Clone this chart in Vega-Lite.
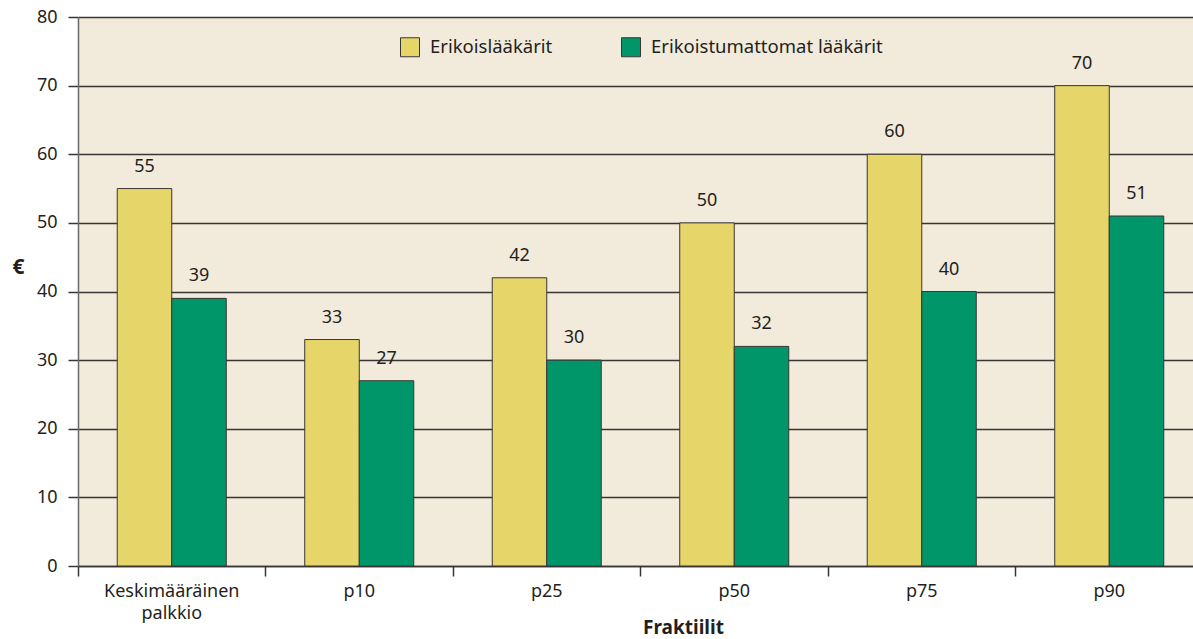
{
  "$schema": "https://vega.github.io/schema/vega-lite/v6.json",
  "width": 1115,
  "height": 549,
  "autosize": {"type": "none"},
  "padding": {"left": 78, "top": 17, "right": 0, "bottom": 73},
  "background": "#ffffff",
  "config": {
    "view": {"fill": "#F2EADB", "stroke": null},
    "font": "Noto Sans",
    "axis": {"labelFont": "Noto Sans", "titleFont": "Noto Sans", "labelColor": "#231F20", "titleColor": "#231F20"}
  },
  "data": {
    "values": [
      {"kategoria": "Keskimääräinen palkkio", "ryhma": "Erikoislääkärit", "arvo": 55},
      {"kategoria": "Keskimääräinen palkkio", "ryhma": "Erikoistumattomat lääkärit", "arvo": 39},
      {"kategoria": "p10", "ryhma": "Erikoislääkärit", "arvo": 33},
      {"kategoria": "p10", "ryhma": "Erikoistumattomat lääkärit", "arvo": 27},
      {"kategoria": "p25", "ryhma": "Erikoislääkärit", "arvo": 42},
      {"kategoria": "p25", "ryhma": "Erikoistumattomat lääkärit", "arvo": 30},
      {"kategoria": "p50", "ryhma": "Erikoislääkärit", "arvo": 50},
      {"kategoria": "p50", "ryhma": "Erikoistumattomat lääkärit", "arvo": 32},
      {"kategoria": "p75", "ryhma": "Erikoislääkärit", "arvo": 60},
      {"kategoria": "p75", "ryhma": "Erikoistumattomat lääkärit", "arvo": 40},
      {"kategoria": "p90", "ryhma": "Erikoislääkärit", "arvo": 70},
      {"kategoria": "p90", "ryhma": "Erikoistumattomat lääkärit", "arvo": 51}
    ]
  },
  "layer": [
    {
      "mark": {"type": "bar", "stroke": "#3a3535", "strokeWidth": 1},
      "encoding": {
        "x": {
          "field": "kategoria", "type": "nominal", "sort": null,
          "scale": {"range": [0, 1125], "paddingInner": 0, "paddingOuter": 0},
          "axis": {
            "labelAngle": 0, "ticks": false, "grid": false, "domain": true,
            "domainColor": "#3a3535", "domainWidth": 1.5,
            "labelFontSize": 18, "labelPadding": 16, "labelLineHeight": 22,
            "labelExpr": "datum.label == 'Keskimääräinen palkkio' ? ['Keskimääräinen', 'palkkio'] : datum.label",
            "title": "Fraktiilit", "titleFontSize": 19, "titleFontWeight": "bold",
            "titleX": 605, "titleY": 61, "titleAlign": "center", "titleBaseline": "middle"
          }
        },
        "xOffset": {
          "field": "ryhma", "type": "nominal",
          "scale": {"paddingInner": 0, "paddingOuter": 0.72}
        },
        "y": {
          "field": "arvo", "type": "quantitative",
          "scale": {"domain": [0, 80]},
          "axis": {
            "values": [0, 10, 20, 30, 40, 50, 60, 70, 80],
            "grid": true, "gridColor": "#3a3535", "gridWidth": 1.5,
            "domainColor": "#6e6a6a", "domainWidth": 1.5,
            "tickColor": "#3a3535", "tickSize": 10, "tickWidth": 1.5,
            "labelFontSize": 18, "labelPadding": 11,
            "title": "€", "titleFontSize": 21, "titleFontWeight": "bold",
            "titleAngle": 0, "titleX": -60, "titleY": 250, "titleAlign": "center", "titleBaseline": "middle"
          }
        },
        "fill": {
          "field": "ryhma", "type": "nominal",
          "scale": {"domain": ["Erikoislääkärit", "Erikoistumattomat lääkärit"], "range": ["#E6D66A", "#00966A"]},
          "legend": {
            "orient": "none", "legendX": 322, "legendY": 20, "direction": "horizontal",
            "title": null, "symbolType": "square", "symbolSize": 361,
            "symbolStrokeColor": "#3a3535", "symbolStrokeWidth": 1,
            "labelFontSize": 18.5, "labelColor": "#231F20", "labelOffset": 10, "labelLimit": 0,
            "columnPadding": 66, "padding": 0
          }
        }
      }
    },
    {
      "mark": {"type": "text", "fontSize": 18, "color": "#231F20", "dy": -13, "baseline": "bottom"},
      "encoding": {
        "x": {
          "field": "kategoria", "type": "nominal", "sort": null,
          "axis": {
            "bandPosition": 0, "orient": "bottom", "labels": false, "ticks": true, "domain": false,
            "grid": false, "tickSize": 10, "tickColor": "#3a3535", "tickWidth": 1.5, "title": null
          }
        },
        "xOffset": {"field": "ryhma", "type": "nominal"},
        "y": {"field": "arvo", "type": "quantitative"},
        "text": {"field": "arvo", "type": "quantitative"}
      }
    }
  ],
  "resolve": {"axis": {"x": "independent"}}
}
